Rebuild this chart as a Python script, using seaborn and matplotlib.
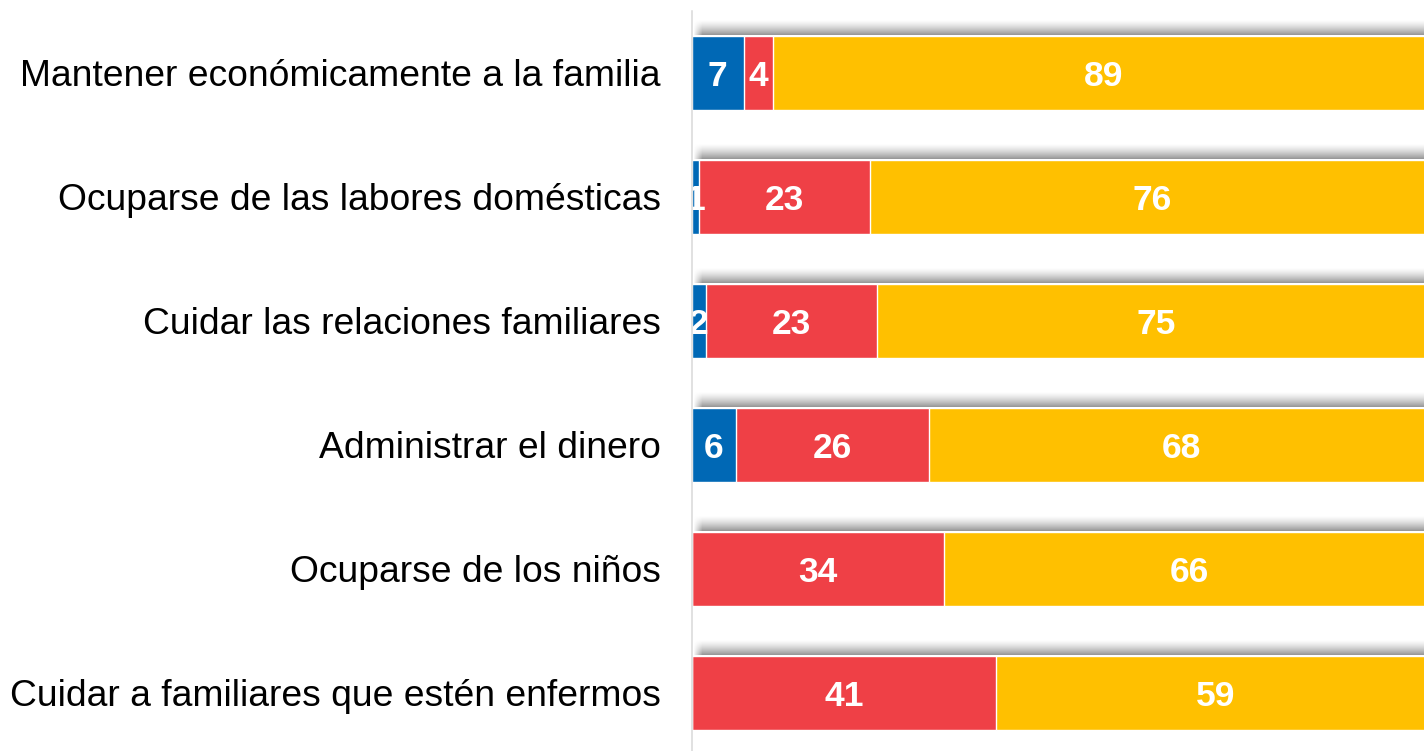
import numpy as np
import pandas as pd
import matplotlib
matplotlib.use("Agg")
import matplotlib.pyplot as plt
import seaborn as sns

# Data: share of responses per task (percent), three stacked segments per row
categorias = [
    "Mantener económicamente a la familia",
    "Ocuparse de las labores domésticas",
    "Cuidar las relaciones familiares",
    "Administrar el dinero",
    "Ocuparse de los niños",
    "Cuidar a familiares que estén enfermos",
]
seg1 = [7, 1, 2, 6, 0, 0]
seg2 = [4, 23, 23, 26, 34, 41]
seg3 = [89, 76, 75, 68, 66, 59]

colores = ["#0068B5", "#EF4046", "#FFC000"]

df = pd.DataFrame({"categoria": categorias, "s1": seg1, "s2": seg2, "s3": seg3})
df["c1"] = df["s1"]
df["c2"] = df["s1"] + df["s2"]
df["c3"] = df["s1"] + df["s2"] + df["s3"]

sns.set_style("white")
plt.rcParams["font.family"] = ["Liberation Sans", "DejaVu Sans"]

W, H = 1424, 751
fig = plt.figure(figsize=(W / 100, H / 100), dpi=100)
ax_left = 691.5 / W
ax_right = 1434.5 / W   # plot area runs slightly past the right edge
ax_bottom = 1 - 755 / H
ax = fig.add_axes([ax_left, ax_bottom, ax_right - ax_left, 744 / H])

bar_h = 0.6
# Stacked bars: draw cumulative totals from the longest to the shortest
for col, color in zip(["c3", "c2", "c1"], colores[::-1]):
    sns.barplot(data=df, x=col, y="categoria", color=color, orient="h",
                width=bar_h, edgecolor="white", linewidth=1.0, ax=ax,
                saturation=1, zorder=2)

# Soft shadow band above each bar, built from one-pixel strips
px = 1 / 124.0          # one pixel in row units
ux = 100 / 743.0        # one pixel in value units
n_rows = 15
for i, tot in enumerate(df["c3"]):
    top = i - bar_h / 2
    for k in range(n_rows):
        a = 0.40 * (1 - k / n_rows) ** 1.4
        yc = top - (k + 1.0) * px
        # fade in over the first few pixels at the left end
        for j in range(8):
            ax.barh(yc, ux, left=(2 + j) * ux, height=px,
                    color=(0, 0, 0, a * (j + 1) / 9), linewidth=0, zorder=1)
        ax.barh(yc, tot - 10 * ux, left=10 * ux, height=px,
                color=(0, 0, 0, a), linewidth=0, zorder=1)

# Value labels centred in each segment
for i in range(len(categorias)):
    left = 0
    for v in (seg1[i], seg2[i], seg3[i]):
        if v > 0:
            ax.text(left + v / 2, i + 13 * px, f"{v}", ha="center", va="baseline",
                    color="white", fontsize=25.5, fontweight="bold", zorder=5)
        left += v

ax.set_xlim(0, 100)
ax.set_ylim(len(categorias) - 0.5, -0.5)
ax.set_xlabel("")
ax.set_ylabel("")
ax.set_xticks([])

for s in ["top", "right", "bottom"]:
    ax.spines[s].set_visible(False)
ax.spines["left"].set_color("#D9D9D9")
ax.spines["left"].set_linewidth(1.1)
ax.spines["left"].set_zorder(6)

ax.set_yticks(range(len(categorias)))
ax.set_yticklabels(categorias, fontsize=26.8, color="black")
ax.tick_params(axis="y", which="major", length=0, pad=22)
ax.set_yticks(np.arange(-0.5, len(categorias) + 0.5, 1), minor=True)
ax.tick_params(axis="y", which="minor", length=8, width=1.1, color="#D9D9D9")

fig.savefig("out.png", dpi=100)
